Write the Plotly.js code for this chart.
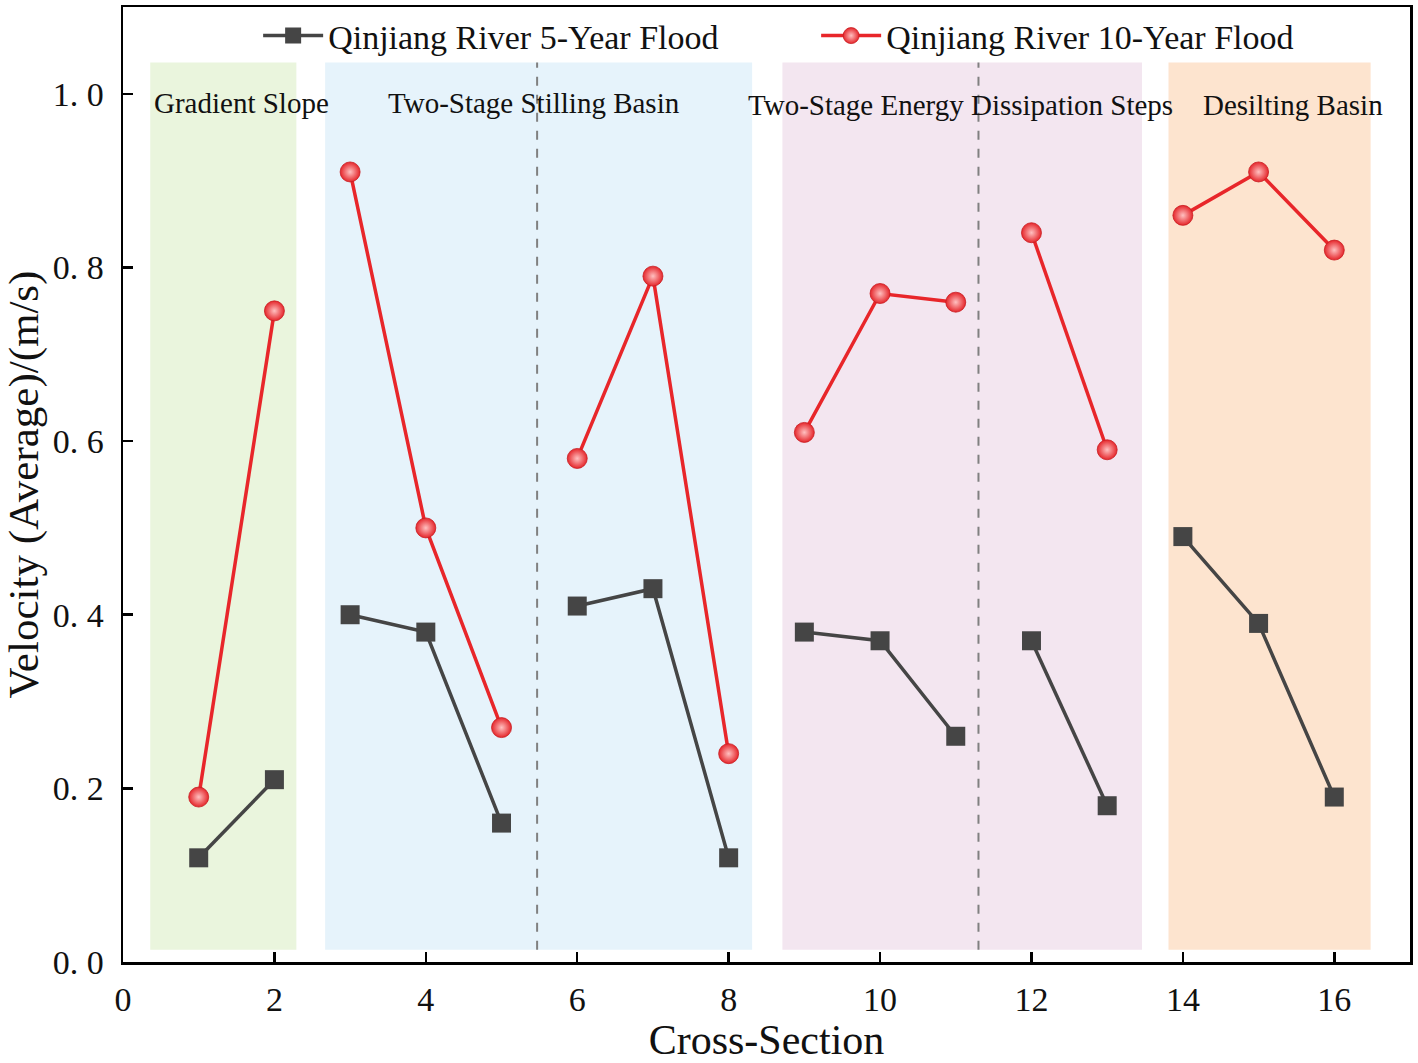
<!DOCTYPE html>
<html>
<head>
<meta charset="utf-8">
<script src="https://cdn.plot.ly/plotly-3.0.1.min.js"></script>
<style>html,body{margin:0;padding:0;background:#fff;}#chart{width:1418px;height:1063px;}</style>
</head>
<body>
<div id="chart"></div>
<script>
// Cross-section groups (lines are broken between groups)
const groups = [[1,2],[3,4,5],[6,7,8],[9,10,11],[12,13],[14,15,16]];
const sections = [1,2,3,4,5,6,7,8,9,10,11,12,13,14,15,16];
const flood5  = [0.12,0.21,0.40,0.38,0.16,0.41,0.43,0.12,0.38,0.37,0.26,0.37,0.18,0.49,0.39,0.19];
const flood10 = [0.19,0.75,0.91,0.50,0.27,0.58,0.79,0.24,0.61,0.77,0.76,0.84,0.59,0.86,0.91,0.82];
const seriesNames = ["Qinjiang River 5-Year Flood", "Qinjiang River 10-Year Flood"];

const regionX0 = [0.36, 2.67, 8.71, 13.81];
const regionX1 = [2.29, 8.31, 13.46, 16.48];
const regionColors = ["#eaf5dd", "#e6f3fb", "#f3e6f0", "#fde4cf"];
const regionLabels = ["Gradient Slope", "Two-Stage Stilling Basin", "Two-Stage Energy Dissipation Steps", "Desilting Basin"];
const regionLabelX = [1.57, 5.43, 11.06, 15.46];
const regionLabelY = [0.99, 0.99, 0.987, 0.987];
const dividerX = [5.47, 11.30];

const yTickVals = [0, 0.2, 0.4, 0.6, 0.8, 1.0];
const yTickText = ["0. 0", "0. 2", "0. 4", "0. 6", "0. 8", "1. 0"];
const xTickVals = [0, 2, 4, 6, 8, 10, 12, 14, 16];

function withBreaks(vals) {
  const xs = [], ys = [];
  groups.forEach((g, gi) => {
    g.forEach(s => { xs.push(s); ys.push(vals[sections.indexOf(s)]); });
    if (gi < groups.length - 1) { xs.push(null); ys.push(null); }
  });
  return {xs, ys};
}

const s5 = withBreaks(flood5);
const s10 = withBreaks(flood10);

const traces = [
  {
    x: s5.xs, y: s5.ys, name: seriesNames[0], type: 'scatter', mode: 'lines+markers',
    connectgaps: false,
    line: {color: '#454545', width: 3.5},
    marker: {symbol: 'square', size: 19, color: '#454545', line: {width: 0}}
  },
  {
    x: s10.xs, y: s10.ys, name: seriesNames[1], type: 'scatter', mode: 'lines+markers',
    connectgaps: false,
    line: {color: '#e8262a', width: 3.5},
    marker: {symbol: 'circle', size: 20, color: '#e5262b',
             gradient: {type: 'radial', color: '#ffc0c0'},
             line: {width: 0.8, color: '#c81d22'}}
  }
];

const shapes = [];
regionX0.forEach((x0, i) => {
  shapes.push({type: 'rect', xref: 'x', yref: 'y', x0: x0, x1: regionX1[i], y0: 0.014, y1: 1.036,
               fillcolor: regionColors[i], line: {width: 0}, layer: 'below'});
});
dividerX.forEach(x => {
  shapes.push({type: 'line', xref: 'x', yref: 'y', x0: x, x1: x, y0: 0.014, y1: 1.036,
               line: {color: '#808080', width: 2, dash: 'dash'}, layer: 'below'});
});

const annotations = regionLabels.map((t, i) => ({
  x: regionLabelX[i], y: regionLabelY[i], xref: 'x', yref: 'y', text: t, showarrow: false,
  font: {family: 'Liberation Serif, Times New Roman, serif', size: 29, color: '#111'},
  xanchor: 'center', yanchor: 'middle'
}));

const layout = {
  width: 1418, height: 1063,
  margin: {l: 123, r: 8, t: 7, b: 101},
  paper_bgcolor: '#fff', plot_bgcolor: '#fff',
  font: {family: 'Liberation Serif, Times New Roman, serif', color: '#111'},
  showlegend: true,
  legend: {orientation: 'h', x: 0.105, xanchor: 'left', y: 1.0, yanchor: 'top',
           bgcolor: 'rgba(0,0,0,0)', font: {size: 34, color: '#111'}, itemwidth: 60,
           entrywidth: 483, entrywidthmode: 'pixels', tracegroupgap: 0},
  xaxis: {
    range: [0, 17], tickvals: xTickVals, ticks: 'inside', ticklen: 10, tickwidth: 2.5, tickcolor: '#000',
    showline: true, linewidth: 2.5, linecolor: '#000', mirror: true, showgrid: false, zeroline: false,
    tickfont: {size: 34, color: '#111'}, ticklabelstandoff: 6, automargin: false,
    title: {text: 'Cross-Section', font: {size: 42, color: '#111'}, standoff: 0}
  },
  yaxis: {
    range: [0, 1.1], tickvals: yTickVals, ticktext: yTickText, ticks: 'inside', ticklen: 10, tickwidth: 2.5, tickcolor: '#000',
    showline: true, linewidth: 2.5, linecolor: '#000', mirror: true, showgrid: false, zeroline: false,
    tickfont: {size: 34, color: '#111'}, ticklabelstandoff: 10, automargin: false,
    title: {text: 'Velocity (Average)/(m/s)', font: {size: 43, color: '#111'}, standoff: 4}
  },
  shapes: shapes,
  annotations: annotations
};

Plotly.newPlot('chart', traces, layout, {displayModeBar: false, staticPlot: true});
</script>
</body>
</html>
